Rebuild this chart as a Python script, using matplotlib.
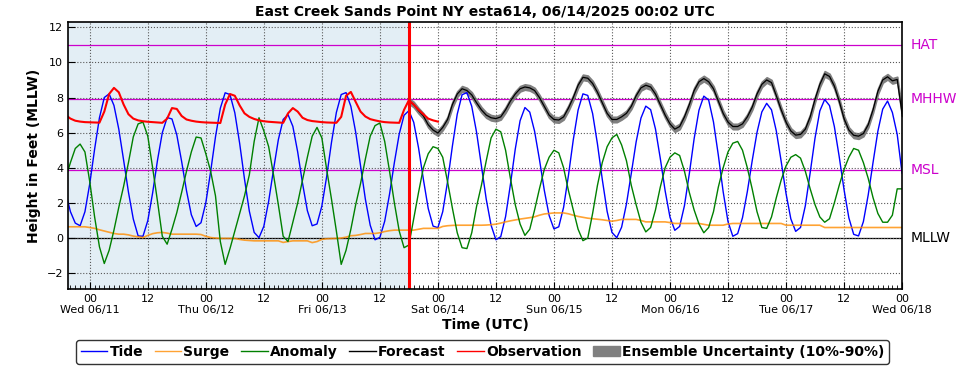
import numpy as np
import pandas as pd
import matplotlib
matplotlib.use("Agg")
from matplotlib import pyplot as plt
import matplotlib.dates as mdates
from matplotlib.patches import Patch

# hourly values (feet, MLLW), first value at 2025-06-10 19:00 UTC
tide = [2.6, 1.5, 0.85, 0.7, 1.5, 3.1, 5.06, 6.85, 8.0, 8.21, 7.55, 6.2,
        4.43, 2.61, 1.08, 0.12, 0.1, 0.99, 2.57, 4.42, 6.0, 6.86, 6.78, 5.87,
        4.36, 2.7, 1.33, 0.66, 0.87, 2.01, 3.79, 5.76, 7.39, 8.27, 8.17, 7.13,
        5.39, 3.36, 1.53, 0.32, 0.02, 0.67, 2.1, 3.89, 5.6, 6.75, 7.03, 6.36,
        4.9, 3.12, 1.56, 0.7, 0.8, 1.82, 3.51, 5.46, 7.15, 8.17, 8.28, 7.5,
        6.02, 4.12, 2.21, 0.73, -0.1, 0.04, 0.96, 2.5, 4.3, 5.92, 6.99, 7.25,
        6.59, 5.13, 3.34, 1.68, 0.68, 0.59, 1.5, 3.21, 5.24, 7.05, 8.16, 8.28,
        7.5, 6.02, 4.12, 2.21, 0.73, -0.1, 0.08, 1.22, 3.05, 5.06, 6.68, 7.43,
        7.17, 6.08, 4.48, 2.73, 1.29, 0.52, 0.64, 1.75, 3.56, 5.59, 7.29, 8.21,
        8.12, 7.09, 5.36, 3.34, 1.52, 0.32, 0.02, 0.62, 1.94, 3.68, 5.47, 6.83,
        7.51, 7.31, 6.21, 4.53, 2.69, 1.19, 0.44, 0.66, 1.85, 3.66, 5.66, 7.28,
        8.08, 7.86, 6.61, 4.72, 2.64, 0.94, 0.1, 0.25, 1.16, 2.64, 4.39, 6.01,
        7.18, 7.67, 7.3, 6.09, 4.37, 2.54, 1.09, 0.38, 0.6, 1.84, 3.72, 5.69,
        7.24, 7.89, 7.54, 6.35, 4.64, 2.76, 1.15, 0.21, 0.12, 0.93, 2.45, 4.3,
        6.08, 7.34, 7.8, 7.15, 5.9, 3.7]

surge = [0.64, 0.64, 0.64, 0.64, 0.64, 0.6, 0.55, 0.47, 0.4, 0.33, 0.26, 0.22,
         0.22, 0.18, 0.11, 0.07, 0.03, 0.15, 0.25, 0.3, 0.32, 0.28, 0.22, 0.22,
         0.22, 0.22, 0.22, 0.22, 0.2, 0.1, 0.03, 0.0, -0.02, -0.02, -0.02, -0.02,
         -0.08, -0.12, -0.14, -0.16, -0.16, -0.16, -0.16, -0.16, -0.16, -0.25, -0.2, -0.16,
         -0.16, -0.16, -0.16, -0.26, -0.2, -0.08, -0.04, -0.03, -0.02, 0.0, 0.05, 0.13,
         0.15, 0.2, 0.26, 0.26, 0.26, 0.3, 0.37, 0.42, 0.45, 0.45, 0.45, 0.45,
         0.45, 0.5, 0.55, 0.55, 0.55, 0.55, 0.66, 0.7, 0.72, 0.73, 0.73, 0.73,
         0.73, 0.73, 0.73, 0.74, 0.76, 0.79, 0.85, 0.92, 0.98, 1.03, 1.08, 1.12,
         1.16, 1.21, 1.3, 1.37, 1.4, 1.43, 1.43, 1.43, 1.38, 1.3, 1.23, 1.18,
         1.13, 1.1, 1.07, 1.04, 1.0, 0.96, 1.0, 1.06, 1.06, 1.06, 1.06, 1.0,
         0.92, 0.92, 0.92, 0.92, 0.92, 0.88, 0.83, 0.83, 0.83, 0.83, 0.83, 0.83,
         0.78, 0.73, 0.73, 0.73, 0.73, 0.8, 0.83, 0.83, 0.83, 0.83, 0.83, 0.83,
         0.83, 0.83, 0.83, 0.83, 0.83, 0.73, 0.73, 0.73, 0.73, 0.73, 0.73, 0.73,
         0.73, 0.6, 0.6, 0.6, 0.6, 0.6, 0.6, 0.6, 0.6, 0.6, 0.6, 0.6,
         0.6, 0.6, 0.6, 0.6, 0.6, 0.6]

anomaly = [3.4, 4.3, 5.1, 5.35, 4.9, 3.2, 1.2, -0.5, -1.45, -0.7, 0.45, 1.75,
           2.95, 4.3, 5.76, 6.5, 6.6, 5.8, 4.0, 2.1, 0.1, -0.35, 0.5, 1.45,
           2.6, 3.8, 4.9, 5.75, 5.7, 4.8, 3.8, 2.4, -0.2, -1.5, -0.6, 0.4,
           1.4, 2.4, 3.6, 5.5, 6.85, 6.1, 5.2, 3.6, 1.9, 0.1, -0.2, 0.9,
           2.0, 3.3, 4.6, 5.8, 6.3, 5.7, 3.9, 2.2, 0.4, -1.5, -0.7, 0.5,
           1.9, 3.1, 4.5, 5.8, 6.4, 6.55, 5.5, 3.8, 2.0, 0.4, -0.55, -0.4,
           1.1, 2.6, 4.0, 4.8, 5.2, 5.1, 4.6, 3.2, 1.7, 0.3, -0.55, -0.6,
           0.3, 1.8, 3.0, 4.4, 5.7, 6.2, 6.05, 5.0, 3.4, 1.9, 0.8, 0.15,
           0.5, 1.6, 2.8, 3.9, 4.6, 5.0, 4.85, 4.0, 2.7, 1.6, 0.5, -0.15,
           0.0, 1.4, 3.0, 4.3, 5.2, 5.7, 5.9, 5.3, 4.4, 3.0, 1.9, 0.9,
           0.35, 0.6, 1.6, 2.9, 4.0, 4.6, 4.85, 4.7, 3.8, 2.6, 1.6, 0.8,
           0.3, 0.6, 1.5, 2.9, 4.0, 4.9, 5.4, 5.5, 5.0, 4.0, 2.8, 1.5,
           0.6, 0.55, 1.2, 2.3, 3.3, 4.1, 4.6, 4.75, 4.55, 3.8, 2.8, 1.9,
           1.2, 0.9, 1.1, 2.0, 3.0, 3.9, 4.6, 5.1, 5.0, 4.3, 3.4, 2.3,
           1.4, 0.9, 0.9, 1.3, 2.8, 2.8]

# observation, same start, ends 06/14 00:00
observation = [7.0, 6.8, 6.68, 6.63, 6.6, 6.59, 6.58, 6.57, 7.2, 8.2, 8.55, 8.3,
               7.6, 7.05, 6.8, 6.7, 6.65, 6.62, 6.6, 6.58, 6.56, 6.8, 7.4, 7.35,
               6.95, 6.75, 6.68, 6.63, 6.6, 6.58, 6.57, 6.56, 6.55, 7.6, 8.2, 8.1,
               7.55, 7.1, 6.9, 6.78, 6.7, 6.65, 6.62, 6.6, 6.58, 6.56, 7.1, 7.4,
               7.2, 6.85, 6.72, 6.66, 6.63, 6.6, 6.58, 6.57, 6.56, 6.9, 8.1, 8.32,
               7.75, 7.2, 6.92, 6.77, 6.7, 6.64, 6.6, 6.58, 6.57, 6.56, 7.3, 7.85,
               7.6, 7.3, 7.05, 6.8, 6.7, 6.63]

# forecast, starts 06/13 18:00
forecast = [7.8, 7.6, 7.25, 6.95, 6.45, 6.15, 5.98, 6.3, 6.75, 7.6, 8.2, 8.5,
            8.4, 8.15, 7.7, 7.3, 7.0, 6.85, 6.8, 6.9, 7.3, 7.8, 8.2, 8.5,
            8.6, 8.55, 8.4, 8.0, 7.5, 7.0, 6.75, 6.72, 6.9, 7.4, 8.0, 8.7,
            9.15, 9.1, 8.8, 8.3, 7.7, 7.1, 6.75, 6.75, 6.9, 7.1, 7.5, 8.1,
            8.55, 8.7, 8.6, 8.2, 7.6, 7.0, 6.5, 6.2, 6.35, 6.9, 7.6, 8.4,
            8.9, 9.08, 8.9, 8.5, 7.8, 7.1, 6.6, 6.35, 6.35, 6.5, 6.9, 7.45,
            8.2, 8.75, 9.0, 8.85, 8.1, 7.3, 6.6, 6.1, 5.86, 5.9, 6.2, 6.9,
            7.9, 8.75, 9.35, 9.2, 8.65, 7.8, 6.8, 6.15, 5.85, 5.8, 5.95, 6.45,
            7.3, 8.35, 9.0, 9.18, 8.95, 9.03, 7.1]
ens_halfwidth = 0.15

datum_names = ["HAT", "MHHW", "MSL", "MLLW"]
datum_values = [11.0, 7.9, 3.9, 0.0]
datum_colors = ["#cc00cc", "#cc00cc", "#cc00cc", "black"]

start = pd.Timestamp("2025-06-10 19:00")
fc_start = pd.Timestamp("2025-06-13 18:00")
xmin = pd.Timestamp("2025-06-10 19:30")
xmax = pd.Timestamp("2025-06-18 00:00")

t = pd.date_range(start, periods=len(tide), freq="h")
t_obs = pd.date_range(start, periods=len(observation), freq="h")
t_fc = pd.date_range(fc_start, periods=len(forecast), freq="h")
fc = np.array(forecast)

fig = plt.figure(figsize=(9.69, 3.70), dpi=100)
ax = fig.add_axes([0.0702, 0.219, 0.8607, 0.7215])

ax.axvspan(xmin, fc_start, color="#e3eef5", zorder=0)
for v, c in zip(datum_values, datum_colors):
    ax.axhline(v, color=c, lw=0.9, zorder=1)

ax.fill_between(t_fc, fc - ens_halfwidth, fc + ens_halfwidth, facecolor="gray",
                edgecolor="gray", lw=1.3, zorder=2)
ax.plot(t, tide, color="blue", lw=1.0, zorder=3)
ax.plot(t, surge, color="darkorange", lw=1.2, alpha=0.8, zorder=3)
ax.plot(t, anomaly, color="green", lw=1.0, zorder=3)
ax.plot(t_fc, forecast, color="black", lw=0.9, zorder=4)
ax.plot(t_obs, observation, color="red", lw=1.5, zorder=4)
ax.axvline(fc_start, color="red", lw=2.2, zorder=5)

ax.set_xlim(xmin, xmax)
ax.set_ylim(-2.9, 12.3)
ax.set_yticks(np.arange(-2, 13, 2))

def fmt(x, pos=None):
    d = mdates.num2date(x)
    if d.hour == 0:
        return d.strftime("%H\n%a %m/%d")
    return d.strftime("%H")

ax.xaxis.set_major_locator(mdates.HourLocator(byhour=[0, 12]))
ax.xaxis.set_minor_locator(mdates.HourLocator())
ax.xaxis.set_major_formatter(plt.FuncFormatter(fmt))
ax.tick_params(which="both", direction="in", labelsize=8)
ax.tick_params(which="major", length=5)
ax.tick_params(which="minor", length=3)
ax.grid(True, which="major", linestyle=":", color="0.35", lw=0.8)
ax.set_axisbelow(False)
for s in ax.spines.values():
    s.set_linewidth(1.2)
    s.set_zorder(6)

for name, v, c in zip(datum_names, datum_values, datum_colors):
    ax.text(1.01, v, name, color=c, fontsize=10, va="center", ha="left",
            transform=ax.get_yaxis_transform())

ax.set_title("East Creek Sands Point NY esta614, 06/14/2025 00:02 UTC",
             fontsize=10, fontweight="bold", pad=4)
ax.set_ylabel("Height in Feet (MLLW)", fontsize=10, fontweight="bold")
ax.set_xlabel("Time (UTC)", fontsize=10, fontweight="bold", labelpad=2)

handles = [plt.Line2D([], [], color="blue", lw=1),
           plt.Line2D([], [], color="darkorange", lw=1, alpha=0.8),
           plt.Line2D([], [], color="green", lw=1),
           plt.Line2D([], [], color="black", lw=1),
           plt.Line2D([], [], color="red", lw=1),
           Patch(facecolor="gray", edgecolor="gray")]
labels = ["Tide", "Surge", "Anomaly", "Forecast", "Observation",
          "Ensemble Uncertainty (10%-90%)"]
leg = fig.legend(handles, labels, loc="center", bbox_to_anchor=(0.498, 0.049),
                 ncol=6, prop={"size": 10, "weight": "bold"}, handlelength=1.9,
                 handletextpad=0.15, columnspacing=0.85, borderpad=0.35,
                 fancybox=True, framealpha=1)
leg.get_frame().set_edgecolor("0.2")

fig.savefig("out.png", dpi=100)
